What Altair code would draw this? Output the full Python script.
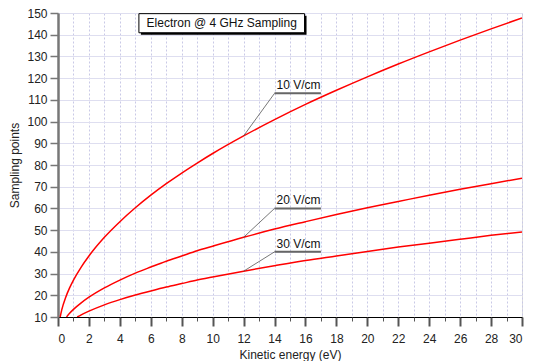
import altair as alt
import pandas as pd

# --- data ---
energy_10 = [0.14, 0.25, 0.5, 0.75, 1, 1.5, 2, 3, 4, 5, 6, 7, 8, 9, 10, 12, 14, 16, 18, 20, 22, 24, 26, 28, 30]
points_10 = [10.0, 13.5, 19.1, 23.4, 27.0, 33.0, 38.1, 46.7, 53.9, 60.3, 66.1, 71.4, 76.3, 80.9, 85.3, 93.4,
             100.9, 107.9, 114.4, 120.6, 126.5, 132.1, 137.5, 142.7, 147.7]
energy_20 = [0.55, 0.75, 1, 1.5, 2, 3, 4, 5, 6, 7, 8, 9, 10, 12, 14, 16, 18, 20, 22, 24, 26, 28, 30]
points_20 = [10.0, 11.7, 13.5, 16.5, 19.1, 23.4, 27.0, 30.2, 33.0, 35.7, 38.1, 40.5, 42.6, 46.7, 50.5, 53.9,
             57.2, 60.3, 63.2, 66.1, 68.8, 71.4, 73.9]
energy_30 = [1.24, 1.5, 2, 3, 4, 5, 6, 7, 8, 9, 10, 12, 14, 16, 18, 20, 22, 24, 26, 28, 30]
points_30 = [10.0, 11.0, 12.7, 15.6, 18.0, 20.1, 22.0, 23.8, 25.4, 27.0, 28.4, 31.1, 33.6, 36.0, 38.1, 40.2,
             42.2, 44.0, 45.8, 47.6, 49.2]

series_names = ["10 V/cm", "20 V/cm", "30 V/cm"]

# annotation: curve point the leader starts from, and label position
label_anchor_x = [12, 12, 12]
label_anchor_y = [93.4, 46.7, 31.1]
label_x = [14, 14, 14]
label_x_end = [17, 17, 17]
label_y = [113, 60, 40]

title_text = "Electron @ 4 GHz Sampling"
title_box_x = [5.23, 15.94]
title_box_y = [140.9, 149.7]

x_major = list(range(0, 31, 2))
x_minor = list(range(0, 31, 1))
y_ticks = list(range(10, 151, 10))

# --- tables ---
rows = []
for name, xs, ys in [(series_names[0], energy_10, points_10),
                     (series_names[1], energy_20, points_20),
                     (series_names[2], energy_30, points_30)]:
    for a, b in zip(xs, ys):
        rows.append({"series": name, "energy": a, "points": b})
curves = pd.DataFrame(rows)

labels = pd.DataFrame({
    "text": series_names,
    "ax": label_anchor_x, "ay": label_anchor_y,
    "lx": label_x, "lx2": label_x_end, "ly": label_y,
})

tbox = pd.DataFrame({
    "x": [title_box_x[0]], "x2": [title_box_x[1]],
    "y": [title_box_y[0]], "y2": [title_box_y[1]],
    "tx": [(title_box_x[0] + title_box_x[1]) / 2],
    "ty": [(title_box_y[0] + title_box_y[1]) / 2],
    "text": [title_text],
})

FONT = "Liberation Sans"
xscale = alt.Scale(domain=[0, 30], nice=False, zero=False)
yscale = alt.Scale(domain=[10, 150], nice=False, zero=False)

lines = alt.Chart(curves).mark_line(color="#ff0000", strokeWidth=1.5, interpolate="monotone", clip=True).encode(
    x=alt.X("energy:Q", scale=xscale,
            axis=alt.Axis(orient="bottom", values=x_major, title="Kinetic energy (eV)", grid=False,
                          tickSize=9, tickWidth=2, tickColor="#555555",
                          domainColor="#000000", domainWidth=1,
                          labelFont=FONT, labelFontSize=12, labelColor="#222222", labelPadding=7,
                          titleFont=FONT, titleFontSize=12, titleFontWeight="normal", titleColor="#222222",
                          titlePadding=5)),
    y=alt.Y("points:Q", scale=yscale,
            axis=alt.Axis(orient="left", values=y_ticks, title="Sampling points", grid=True, gridColor="#dedef0",
                          gridWidth=1, tickSize=8, tickWidth=1.5, tickColor="#777777",
                          domainColor="#777777", domainWidth=2.5,
                          labelFont=FONT, labelFontSize=12, labelColor="#222222", labelPadding=3,
                          titleFont=FONT, titleFontSize=12, titleFontWeight="normal", titleColor="#222222",
                          titlePadding=5)),
    detail="series:N",
)

# minor x axis with the dotted vertical grid
minor = alt.Chart(curves).mark_line(opacity=0).encode(
    x=alt.X("energy:Q", scale=xscale,
            axis=alt.Axis(orient="bottom", values=x_minor, labels=False, title=None, domain=False,
                          tickSize=4, tickWidth=1, tickColor="#555555",
                          grid=True, gridColor="#c9c9e6", gridDash=[2, 2], gridWidth=1)),
    y=alt.Y("points:Q", scale=yscale, axis=None),
    detail="series:N",
)

leaders = alt.Chart(labels).mark_rule(color="#555555", strokeWidth=0.8).encode(
    x=alt.X("ax:Q", scale=xscale, axis=None), y=alt.Y("ay:Q", scale=yscale, axis=None),
    x2="lx:Q", y2="ly:Q",
)
underlines = alt.Chart(labels).mark_rule(color="#666666", strokeWidth=2).encode(
    x=alt.X("lx:Q", scale=xscale, axis=None), x2="lx2:Q",
    y=alt.Y("ly:Q", scale=yscale, axis=None),
)
label_text = alt.Chart(labels).mark_text(font=FONT, fontSize=12, color="#111111", align="left",
                                         baseline="alphabetic", dx=2, dy=-4).encode(
    x=alt.X("lx:Q", scale=xscale, axis=None), y=alt.Y("ly:Q", scale=yscale, axis=None), text="text:N",
)

shadow = alt.Chart(tbox).mark_rect(color="#000000", xOffset=2, x2Offset=2, yOffset=2, y2Offset=2).encode(
    x=alt.X("x:Q", scale=xscale, axis=None), x2="x2:Q",
    y=alt.Y("y:Q", scale=yscale, axis=None), y2="y2:Q",
)
box = alt.Chart(tbox).mark_rect(fill="#ffffff", stroke="#000000", strokeWidth=1).encode(
    x=alt.X("x:Q", scale=xscale, axis=None), x2="x2:Q",
    y=alt.Y("y:Q", scale=yscale, axis=None), y2="y2:Q",
)
box_text = alt.Chart(tbox).mark_text(font=FONT, fontSize=12, color="#111111", align="center",
                                     baseline="middle").encode(
    x=alt.X("tx:Q", scale=xscale, axis=None), y=alt.Y("ty:Q", scale=yscale, axis=None), text="text:N",
)

chart = alt.layer(lines, minor, leaders, underlines, label_text, shadow, box, box_text).resolve_axis(
    x="independent", y="independent"
).properties(
    width=464, height=304,
    autosize=alt.AutoSizeParams(type="none"),
    padding={"left": 50, "top": 5, "right": 20, "bottom": 44},
).configure_view(stroke=None).configure(background="#ffffff")

chart.save("out.html", embed_options={"renderer": "svg", "actions": False})
